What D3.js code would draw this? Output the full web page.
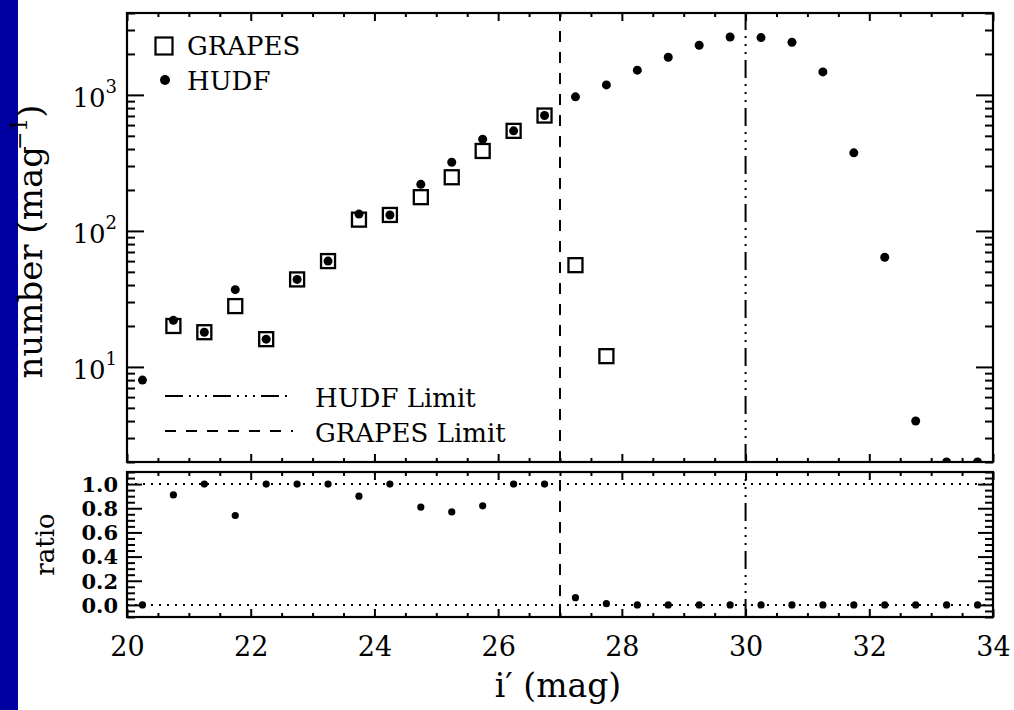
<!DOCTYPE html>
<html><head><meta charset="utf-8">
<script src="https://cdn.jsdelivr.net/npm/d3@7"></script>
<style>
body{margin:0;background:#fff;}
svg{display:block;}
text{font-family:"DejaVu Serif",serif;fill:#000;}
</style>
</head><body>
<svg id="chart" width="1014" height="710"></svg>
<script>
// ---------------- data ----------------
const magBins = [20.25,20.75,21.25,21.75,22.25,22.75,23.25,23.75,24.25,24.75,25.25,25.75,26.25,26.75,
                 27.25,27.75,28.25,28.75,29.25,29.75,30.25,30.75,31.25,31.75,32.25,32.75,33.25,33.75];
const hudfCounts = [8,22,18,37,16,44,60,133,131,220,320,472,544,705,
                    967,1184,1520,1892,2319,2667,2638,2438,1476,375,64,4,2,2];
const grapesBins = [20.75,21.25,21.75,22.25,22.75,23.25,23.75,24.25,24.75,25.25,25.75,26.25,26.75,27.25,27.75];
const grapesCounts = [20,18,28,16,44,60,121,131,177,248,387,544,705,56,12];
const ratioValues = [0,0.91,1.0,0.74,1.0,1.0,1.0,0.90,1.0,0.81,0.77,0.82,1.0,1.0,
                     0.06,0.01,0,0,0,0,0,0,0,0,0,0,0,0];
const xTickValues = [20,22,24,26,28,30,32,34];
const yTickValues = [10,100,1000];
const yTickExponents = ["1","2","3"];
const ratioTickValues = [0,0.2,0.4,0.6,0.8,1.0];
const ratioTickLabels = ["0.0","0.2","0.4","0.6","0.8","1.0"];
const ratioRefLines = [0,1];
const limitNames = ["HUDF Limit","GRAPES Limit"];
const limitMags = [30,27];
const seriesNames = ["GRAPES","HUDF"];

// ---------------- layout ----------------
const L = 127, R = 993;
const T1 = 13, B1 = 462;   // top panel
const T2 = 472, B2 = 617;  // ratio panel

const svg = d3.select("#chart");
svg.append("rect").attr("x",0).attr("y",0).attr("width",1014).attr("height",710).attr("fill","#fff");
svg.append("rect").attr("x",0).attr("y",0).attr("width",18).attr("height",710).attr("fill","#0000a0");

const x = d3.scaleLinear().domain([20,34]).range([L,R]);
const yTop = d3.scaleLog().domain([2,4000]).range([B1,T1]);
const yBot = d3.scaleLinear().domain([-0.1,1.1]).range([B2,T2]);

const defs = svg.append("defs");
defs.append("clipPath").attr("id","clipTop").append("rect")
  .attr("x",L).attr("y",T1).attr("width",R-L).attr("height",B1-T1);
defs.append("clipPath").attr("id","clipBot").append("rect")
  .attr("x",L).attr("y",T2).attr("width",R-L).attr("height",B2-T2);

// tick arrays
const xMinor = d3.range(20,34.001,0.5).filter(v => Math.abs(v/2 - Math.round(v/2))>1e-6);
const yLogMinor = [];
[1,10,100,1000].forEach(d => { for (let k=2;k<=9;k++){ const v=k*d; if (v>=2 && v<=4000) yLogMinor.push(v);} });
const ratioMinor = d3.range(-0.1,1.1001,0.05).map(v=>+v.toFixed(3))
  .filter(v => !ratioTickValues.some(t=>Math.abs(t-v)<1e-6));

function styleAxis(g){
  g.select(".domain").remove();
  g.selectAll("line").attr("stroke","#000").attr("stroke-width",2);
  g.selectAll("text").remove();
}
function inwardX(yPos, top, vals, len){
  const ax = (top ? d3.axisBottom(x) : d3.axisTop(x)).tickValues(vals).tickSize(len).tickFormat("");
  svg.append("g").attr("transform",`translate(0,${yPos})`).call(ax).call(styleAxis);
}
function inwardY(scale, xPos, left, vals, len){
  const ax = (left ? d3.axisRight(scale) : d3.axisLeft(scale)).tickValues(vals).tickSize(len).tickFormat("");
  svg.append("g").attr("transform",`translate(${xPos},0)`).call(ax).call(styleAxis);
}

// ----- ticks -----
[[T1,true],[B1,false],[T2,true],[B2,false]].forEach(([yy,top])=>{
  inwardX(yy, top, xTickValues, 8);
  inwardX(yy, top, xMinor, 4);
});
inwardY(yTop, L, true, yTickValues, 17);
inwardY(yTop, L, true, yLogMinor, 8);
inwardY(yTop, R, false, yTickValues, 17);
inwardY(yTop, R, false, yLogMinor, 8);
inwardY(yBot, L, true, ratioTickValues, 15);
inwardY(yBot, L, true, ratioMinor, 8);
inwardY(yBot, R, false, ratioTickValues, 15);
inwardY(yBot, R, false, ratioMinor, 8);

// ----- limit lines -----
const limitDash = {"HUDF Limit":"18,6,2,6,2,6,2,6","GRAPES Limit":"11,10"};
limitNames.forEach((n,i)=>{
  [[T1,B1],[T2,B2]].forEach(([a,b])=>{
    svg.append("line").attr("x1",x(limitMags[i])).attr("x2",x(limitMags[i]))
      .attr("y1",b).attr("y2",a)
      .attr("stroke","#000").attr("stroke-width",2).attr("stroke-dasharray",limitDash[n]);
  });
});

// ----- ratio reference lines -----
svg.append("g").selectAll("line").data(ratioRefLines).join("line")
  .attr("x1",L).attr("x2",R).attr("y1",d=>yBot(d)).attr("y2",d=>yBot(d))
  .attr("stroke","#000").attr("stroke-width",2).attr("stroke-dasharray","2,6");

// ----- data marks -----
const topG = svg.append("g").attr("clip-path","url(#clipTop)");
const sq = 14;
topG.selectAll("rect.grapes").data(grapesBins).join("rect").attr("class","grapes")
  .attr("x",(d,i)=>x(d)-sq/2).attr("y",(d,i)=>yTop(grapesCounts[i])-sq/2)
  .attr("width",sq).attr("height",sq)
  .attr("fill","none").attr("stroke","#000").attr("stroke-width",2.3);
topG.selectAll("circle.hudf").data(magBins).join("circle").attr("class","hudf")
  .attr("cx",d=>x(d)).attr("cy",(d,i)=>yTop(hudfCounts[i])).attr("r",4.5).attr("fill","#000");

const botG = svg.append("g").attr("clip-path","url(#clipBot)");
botG.selectAll("circle").data(magBins).join("circle")
  .attr("cx",d=>x(d)).attr("cy",(d,i)=>yBot(ratioValues[i])).attr("r",3.6).attr("fill","#000");

// ----- frames -----
[[T1,B1],[T2,B2]].forEach(([a,b])=>{
  svg.append("rect").attr("x",L).attr("y",a).attr("width",R-L).attr("height",b-a)
    .attr("fill","none").attr("stroke","#000").attr("stroke-width",2.2);
});

// ----- tick labels -----
const xl = d3.axisBottom(x).tickValues(xTickValues).tickSize(0).tickPadding(20).tickFormat(d3.format("d"));
svg.append("g").attr("transform",`translate(0,${B2})`).call(xl)
  .call(g=>{g.select(".domain").remove();
    g.selectAll("text").attr("font-size",27).attr("font-family","DejaVu Serif, serif").attr("fill","#000");});

const yl = svg.append("g");
yTickValues.forEach((v,i)=>{
  const t = yl.append("text").attr("x",117).attr("y",yTop(v)+12).attr("text-anchor","end");
  t.append("tspan").attr("font-size",26).text("10");
  t.append("tspan").attr("font-size",18).attr("dy",-14).text(yTickExponents[i]);
});
svg.append("g").selectAll("text").data(ratioTickValues).join("text")
  .attr("x",118).attr("y",d=>yBot(d)).attr("dy","0.37em").attr("text-anchor","end")
  .attr("font-size",21).attr("font-weight","bold").text((d,i)=>ratioTickLabels[i]);

// ----- axis titles -----
svg.append("text").attr("x",(L+R)/2-2).attr("y",697).attr("text-anchor","middle")
  .attr("font-size",33).text("i\u2032 (mag)");
const yt = svg.append("text").attr("transform",`translate(42,${(T1+B1)/2+4}) rotate(-90)`)
  .attr("text-anchor","middle").attr("font-size",34);
yt.append("tspan").text("number (mag");
yt.append("tspan").attr("font-size",22).attr("dy",-15).attr("dx",-4).text("\u22121");
yt.append("tspan").attr("dy",15).text(")");
svg.append("text").attr("transform",`translate(54,${(T2+B2)/2}) rotate(-90)`)
  .attr("text-anchor","middle").attr("font-size",26).text("ratio");

// ----- legend -----
svg.append("rect").attr("x",164-8.5).attr("y",46-8.5).attr("width",17).attr("height",17)
  .attr("fill","none").attr("stroke","#000").attr("stroke-width",2.2);
svg.append("circle").attr("cx",165).attr("cy",80).attr("r",5).attr("fill","#000");
svg.append("text").attr("x",187).attr("y",55).attr("font-size",26).text(seriesNames[0]);
svg.append("text").attr("x",187).attr("y",90).attr("font-size",26).text(seriesNames[1]);

const legLineY = [396,431];
limitNames.forEach((n,i)=>{
  svg.append("line").attr("x1",165).attr("x2",293).attr("y1",legLineY[i]).attr("y2",legLineY[i])
    .attr("stroke","#000").attr("stroke-width",2).attr("stroke-dasharray",limitDash[n]);
  svg.append("text").attr("x",315).attr("y",legLineY[i]+11).attr("font-size",26).text(n);
});
</script>
</body></html>
